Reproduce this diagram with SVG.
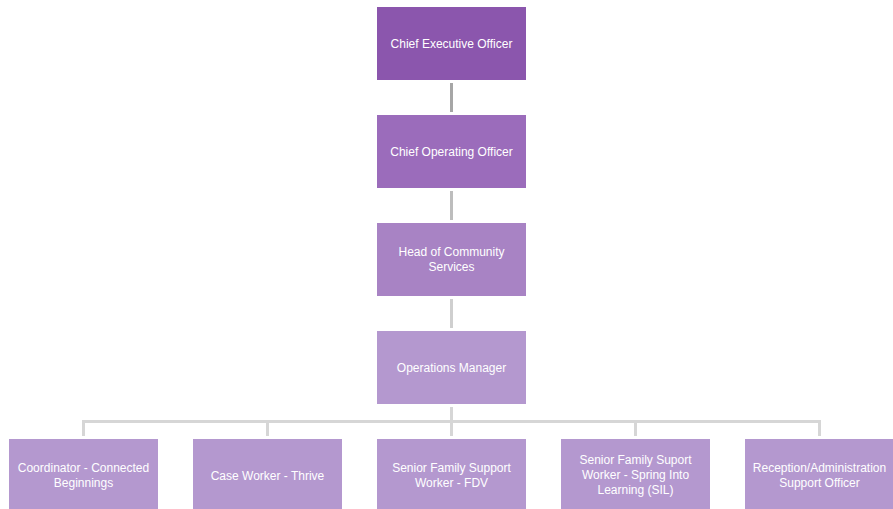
<svg xmlns="http://www.w3.org/2000/svg" width="893" height="509" viewBox="0 0 893 509">
<style>
text{font-family:"Liberation Sans",Arial,sans-serif;font-size:12px;fill:#ffffff;text-anchor:middle}
.c{stroke-width:3;fill:none}
</style>
<rect width="893" height="509" fill="#ffffff"/>
<g id="connectors">
<line class="c" x1="451.5" y1="83" x2="451.5" y2="112" stroke="#a6a6a6"/>
<line class="c" x1="451.5" y1="191" x2="451.5" y2="220" stroke="#bdbdbd"/>
<line class="c" x1="451.5" y1="299" x2="451.5" y2="328" stroke="#cfcfcf"/>
<path class="c" stroke="#d6d6d6" d="M451.5 407V421.5M83.5 436V421.5H819.5V436M267.5 421.5V436M451.5 421.5V436M635.5 421.5V436"/>
</g>
<g id="ceo"><rect x="377" y="7" width="149" height="73" fill="#8b56ad"/><text x="451.5" y="48">Chief Executive Officer</text></g>
<g id="coo"><rect x="377" y="115" width="149" height="73" fill="#9b6cbb"/><text x="451.5" y="156">Chief Operating Officer</text></g>
<g id="head"><rect x="377" y="223" width="149" height="73" fill="#a883c4"/><text x="451.5" y="256">Head of Community</text><text x="451.5" y="271">Services</text></g>
<g id="ops"><rect x="377" y="331" width="149" height="73" fill="#b498cf"/><text x="451.5" y="372">Operations Manager</text></g>
<g id="coord"><rect x="9" y="439" width="149" height="73" fill="#b498cf"/><text x="83.5" y="472">Coordinator - Connected</text><text x="83.5" y="487">Beginnings</text></g>
<g id="case"><rect x="193" y="439" width="149" height="73" fill="#b498cf"/><text x="267.5" y="480">Case Worker - Thrive</text></g>
<g id="fdv"><rect x="377" y="439" width="149" height="73" fill="#b498cf"/><text x="451.5" y="472">Senior Family Support</text><text x="451.5" y="487">Worker - FDV</text></g>
<g id="sil"><rect x="561" y="439" width="149" height="73" fill="#b498cf"/><text x="635.5" y="464">Senior Family Suport</text><text x="635.5" y="479">Worker - Spring Into</text><text x="635.5" y="494">Learning (SIL)</text></g>
<g id="recep"><rect x="745" y="439" width="149" height="73" fill="#b498cf"/><text x="819.5" y="472">Reception/Administration</text><text x="819.5" y="487">Support Officer</text></g>
</svg>
